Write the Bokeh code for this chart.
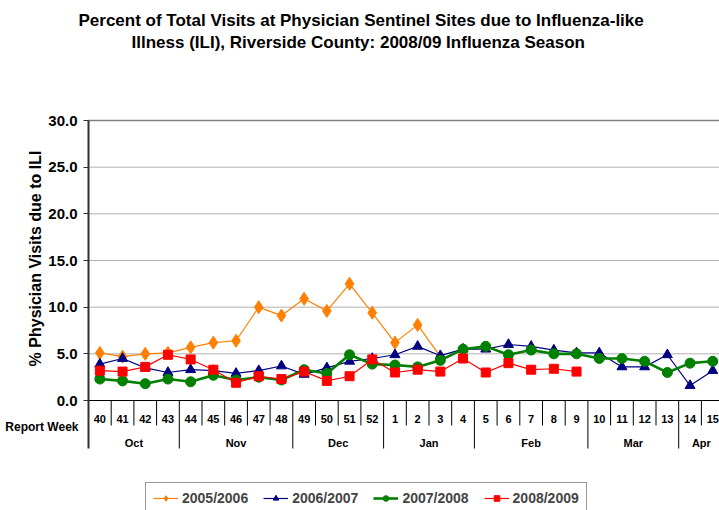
import numpy as np
from bokeh.plotting import figure
from bokeh.models import (Range1d, FixedTicker, Title, ColumnDataSource, CustomJSTickFormatter)
from bokeh.core.properties import value
from bokeh.embed import file_html
from bokeh.resources import INLINE

# ---------------- data ----------------
weeks = ["40", "41", "42", "43", "44", "45", "46", "47", "48", "49", "50", "51", "52",
         "1", "2", "3", "4", "5", "6", "7", "8", "9", "10", "11", "12", "13", "14", "15"]
months = ["Oct", "Nov", "Dec", "Jan", "Feb", "Mar", "Apr"]
month_weeks = [4, 5, 4, 4, 5, 4, 2]
y_ticks = [0, 5, 10, 15, 20, 25, 30]

s2005 = [5.1, 4.7, 5.0, 5.1, 5.7, 6.2, 6.4, 10.0, 9.1, 10.9, 9.6, 12.5, 9.4, 6.2, 8.1, 4.7]
s2006 = [3.9, 4.5, 3.5, 3.0, 3.3, 3.2, 2.9, 3.2, 3.7, 2.8, 3.5, 4.2, 4.5, 4.9, 5.8, 4.8,
         5.5, 5.5, 6.0, 5.8, 5.4, 5.1, 5.1, 3.6, 3.6, 4.9, 1.6, 3.2]
s2007 = [2.3, 2.1, 1.8, 2.3, 2.0, 2.7, 2.2, 2.5, 2.2, 3.3, 2.9, 4.9, 3.9, 3.8, 3.6, 4.3,
         5.5, 5.8, 4.9, 5.4, 5.0, 5.0, 4.5, 4.5, 4.2, 3.0, 4.0, 4.2]
s2008 = [3.2, 3.1, 3.6, 4.9, 4.4, 3.3, 1.9, 2.6, 2.3, 3.1, 2.1, 2.6, 4.4, 3.0, 3.3, 3.1,
         4.5, 3.0, 4.0, 3.3, 3.4, 3.1]

series = [
    ("2005/2006", s2005, "#FF8000", "diamond", 13, 1.2),
    ("2006/2007", s2006, "#000080", "triangle", 10, 1.2),
    ("2007/2008", s2007, "#008000", "circle", 10, 2.6),
    ("2008/2009", s2008, "#FF0000", "square", 9, 1.2),
]

FONT = "Liberation Sans"
W, H = 719, 510
AX_PX, TOP = 88, 106   # pixel column of the value axis, pixel row of the frame top
PX_X = 22.7            # pixels per week
PX_Y = 280 / 30.0      # pixels per percent
Y0 = 400               # pixel row of y = 0

def ydat(py):
    return (Y0 - py) / PX_Y

def xdat(px):
    return (px - AX_PX) / PX_X - 0.5

x_axis_pos = -0.5
x_start = xdat(0)
x_end = xdat(W)
y_end = ydat(TOP)
y_start = ydat(H)

p = figure(width=W, height=H, output_backend="svg", toolbar_location=None,
           x_range=Range1d(x_start, x_end), y_range=Range1d(y_start, y_end),
           x_axis_type=None, min_border_left=0, min_border_right=0,
           min_border_top=TOP, min_border_bottom=0)
p.outline_line_color = None
p.background_fill_color = "white"
p.border_fill_color = "white"
p.xgrid.visible = False
p.ygrid.visible = False

# value axis pinned at the left edge of the week grid
yax = p.yaxis[0]
yax.fixed_location = x_axis_pos
yax.ticker = FixedTicker(ticks=y_ticks)
yax.bounds = (ydat(448), 30)
yax.formatter = CustomJSTickFormatter(code="return tick.toFixed(1);")
yax.axis_line_color = "#303030"
yax.axis_line_width = 2
yax.major_tick_line_color = "#303030"
yax.major_tick_out = 5
yax.major_tick_in = 0
yax.minor_tick_line_color = None
yax.major_label_standoff = 6
yax.major_label_text_font = FONT
yax.major_label_text_font_style = "bold"
yax.major_label_text_font_size = "15px"
yax.major_label_text_color = "black"

# horizontal grid lines, x baseline and top line
grid_y = y_ticks[1:-1]
p.segment(x0=x_axis_pos, y0=grid_y, x1=x_end, y1=grid_y, line_color="#b0b0b0", line_width=1)
p.segment(x0=x_axis_pos, y0=[y_ticks[-1]], x1=x_end, y1=[y_ticks[-1]], line_color="#808080",
          line_width=1.5)
p.segment(x0=x_axis_pos, y0=[y_ticks[0]], x1=x_end, y1=[y_ticks[0]], line_color="black",
          line_width=1)

# category axis: week row and month row
idx = np.arange(len(weeks))
bounds_month = np.cumsum([0] + month_weeks)
short = [i for i in range(1, len(weeks)) if i not in bounds_month]
longb = [b for b in bounds_month[1:-1]]
p.segment(x0=[i - 0.5 for i in short], y0=0, x1=[i - 0.5 for i in short], y1=ydat(425),
          line_color="black", line_width=1)
p.segment(x0=[b - 0.5 for b in longb], y0=0, x1=[b - 0.5 for b in longb], y1=ydat(448),
          line_color="black", line_width=1)
p.text(x=idx, y=ydat(418), text=weeks, text_align="center", text_baseline="middle",
       text_font=value(FONT), text_font_style="bold", text_font_size="11px", text_color="black")
mcent = [bounds_month[k] + (month_weeks[k] - 1) / 2 for k in range(len(months))]
p.text(x=mcent, y=ydat(442), text=months, text_align="center", text_baseline="middle",
       text_font=value(FONT), text_font_style="bold", text_font_size="11px", text_color="black")
p.text(x=[xdat(78)], y=[ydat(426)], text=["Report Week"], text_align="right",
       text_baseline="middle", text_font=value(FONT), text_font_style="bold",
       text_font_size="12px", text_color="black")
p.text(x=[xdat(35)], y=[ydat(258)], text=["% Physician Visits due to ILI"], angle=np.pi / 2,
       text_align="center", text_baseline="middle", text_font=value(FONT),
       text_font_style="bold", text_font_size="16px", text_color="black")

# series
for name, vals, col, mk, sz, lw in series:
    src = ColumnDataSource(dict(x=list(range(len(vals))), y=vals))
    p.line("x", "y", source=src, line_color=col, line_width=lw, legend_label=name)
    p.scatter("x", "y", source=src, marker=mk, size=sz, fill_color=col,
              line_color=col, legend_label=name)

# titles (above panel): spacer nearest the frame, then line 2, then line 1
spacer = Title(text=" ", standoff=36, text_font=FONT, text_font_size="15px")
t2 = Title(text="Illness (ILI), Riverside County: 2008/09 Influenza Season", align="left",
           offset=131, standoff=0, text_font=FONT, text_font_style="bold",
           text_font_size="17px", text_color="black")
t1 = Title(text="Percent of Total Visits at Physician Sentinel Sites due to Influenza-like",
           align="left", offset=78, standoff=2, text_font=FONT,
           text_font_style="bold", text_font_size="17px", text_color="black")
p.add_layout(spacer, "above")
p.add_layout(t2, "above")
p.add_layout(t1, "above")

lg = p.legend[0]
lg.orientation = "horizontal"
lg.location = (145, -4)
lg.glyph_width = 25
lg.glyph_height = 14
lg.label_height = 14
lg.label_standoff = 4
lg.spacing = 15
lg.padding = 7
lg.margin = 0
lg.border_line_color = "#333333"
lg.border_line_width = 1
lg.background_fill_alpha = 1
lg.label_text_font = FONT
lg.label_text_font_style = "bold"
lg.label_text_font_size = "14px"
lg.label_text_baseline = "middle"

open("out.html", "w").write(file_html(p, INLINE))
